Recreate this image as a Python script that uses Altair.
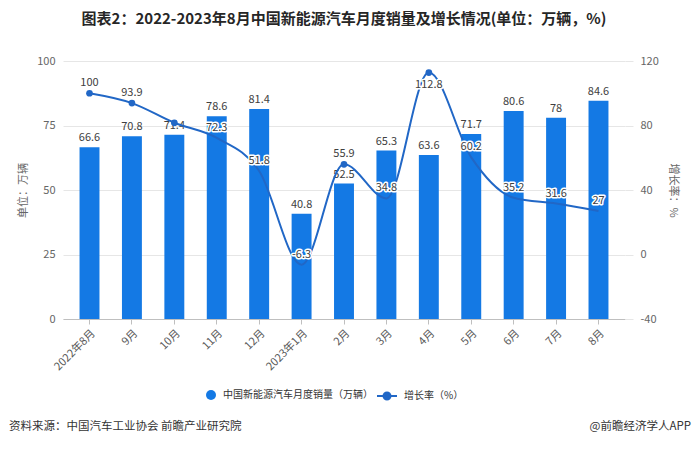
import altair as alt
import pandas as pd

# ---------------- data ----------------
months = ["2022年8月", "9月", "10月", "11月", "12月", "2023年1月", "2月", "3月",
          "4月", "5月", "6月", "7月", "8月"]
sales = [66.6, 70.8, 71.4, 78.6, 81.4, 40.8, 52.5, 65.3, 63.6, 71.7, 80.6, 78, 84.6]
growth = [100, 93.9, 81.7, 72.3, 51.8, -6.3, 55.9, 34.8, 112.8, 60.2, 35.2, 31.6, 27]
marker_months = ["2022年8月", "9月", "10月", "2月", "4月"]
growth_label_hidden = ["10月"]

sales_name = "中国新能源汽车月度销量（万辆）"
growth_name = "增长率（%）"
title_text = "图表2：2022-2023年8月中国新能源汽车月度销量及增长情况(单位：万辆，%)"
source_text = "资料来源：中国汽车工业协会 前瞻产业研究院"
brand_text = "@前瞻经济学人APP"

left_ticks = [0, 25, 50, 75, 100]
right_ticks = [-40, 0, 40, 80, 120]

FONT = "Noto Sans CJK SC"
BLUE = "#1479E4"
LINE = "#2167C6"
TXT = "#404040"

df = pd.DataFrame({
    "month": months,
    "sales": sales,
    "growth": growth,
    "sales_lbl": [f"{v:g}" for v in sales],
    "growth_lbl": [f"{v:g}" for v in growth],
    "s1": sales_name,
    "s2": growth_name,
})

base = alt.Chart(df)

x_enc = alt.X(
    "month:N", sort=months,
    scale=alt.Scale(paddingInner=0.53, paddingOuter=0.39),
    axis=alt.Axis(title=None, labelAngle=-45, labelAlign="right", labelBaseline="top",
                  labelColor="#595959", labelFontSize=11, labelFont=FONT,
                  domainColor="#bfbfbf", tickColor="#bfbfbf", tickSize=5,
                  labelPadding=3, grid=False),
)

left_axis = alt.Axis(values=left_ticks, title="单位：万辆", titleFontSize=11,
                     titleFontWeight="normal", titleColor="#666666", titleFont=FONT,
                     titlePadding=8, labelColor="#666666", labelFontSize=11, labelFont=FONT,
                     domain=False, ticks=False, labelPadding=8, grid=True,
                     gridColor="#e6e6e6")

right_axis = alt.Axis(orient="right", values=right_ticks, title="增长率：%", titleFontSize=11,
                      titleFontWeight="normal", titleColor="#666666", titleFont=FONT,
                      titlePadding=9, labelColor="#666666", labelFontSize=11, labelFont=FONT,
                      labelExpr="'' + datum.value",
                      domain=False, ticks=True, tickColor="#e6e6e6", tickSize=8,
                      labelPadding=7, grid=False)

legend1 = alt.Legend(orient="none", legendX=142, legendY=328, title=None,
                     symbolType="circle", symbolSize=100, labelFontSize=10,
                     labelColor="#333333", labelFont=FONT, labelLimit=400,
                     labelOffset=6)
legend2 = alt.Legend(orient="none", legendX=313, legendY=324, title=None,
                     symbolType="M-1,0L1,0M-0.35,0A0.35,0.35,0,1,1,0.35,0A0.35,0.35,0,1,1,-0.35,0Z",
                     symbolSize=400, symbolStrokeWidth=2, symbolFillColor=LINE,
                     labelFontSize=10, labelColor="#333333", labelFont=FONT,
                     labelLimit=400, labelOffset=6)

bars = base.mark_bar().encode(
    x=x_enc,
    y=alt.Y("sales:Q", scale=alt.Scale(domain=[0, 100], nice=False), axis=left_axis),
    color=alt.Color("s1:N", scale=alt.Scale(range=[BLUE]), legend=legend1),
)
bar_labels = base.mark_text(baseline="bottom", dy=-4, fontSize=11, color=TXT, font=FONT).encode(
    x=alt.X("month:N", sort=months), y="sales:Q", text="sales_lbl:N")
left_layer = alt.layer(bars, bar_labels)

line = base.mark_line(interpolate="monotone", strokeWidth=2).encode(
    x=alt.X("month:N", sort=months),
    y=alt.Y("growth:Q", scale=alt.Scale(domain=[-40, 120], nice=False), axis=right_axis),
    stroke=alt.Stroke("s2:N", scale=alt.Scale(range=[LINE]), legend=legend2),
)
points = base.mark_circle(size=45, color=LINE, opacity=1).encode(
    x=alt.X("month:N", sort=months), y="growth:Q"
).transform_filter(alt.FieldOneOfPredicate(field="month", oneOf=marker_months))

lbl_filter = "indexof(" + str(growth_label_hidden).replace("'", '"') + ", datum.month) < 0"


def glabels(cond, dy):
    halo = base.mark_text(dy=dy, fontSize=11, font=FONT, color=TXT, stroke="white",
                          strokeWidth=3, strokeJoin="round").encode(
        x=alt.X("month:N", sort=months), y="growth:Q", text="growth_lbl:N"
    ).transform_filter(lbl_filter).transform_filter(cond)
    txt = base.mark_text(dy=dy, fontSize=11, font=FONT, color=TXT).encode(
        x=alt.X("month:N", sort=months), y="growth:Q", text="growth_lbl:N"
    ).transform_filter(lbl_filter).transform_filter(cond)
    return [halo, txt]


right_layer = alt.layer(line, points,
                        *glabels("datum.growth <= 110", -10),
                        *glabels("datum.growth > 110", 12))

foot_df = pd.DataFrame({"src": [source_text], "brand": [brand_text]})
foot_left = alt.Chart(foot_df).mark_text(align="left", baseline="middle", fontSize=11.5,
                                         font=FONT, color="#333333").encode(
    x=alt.value(-54), y=alt.value(366), text="src:N")
foot_right = alt.Chart(foot_df).mark_text(align="right", baseline="middle", fontSize=11.5,
                                          font=FONT, color="#333333").encode(
    x=alt.value(628), y=alt.value(366), text="brand:N")

chart = alt.layer(left_layer, right_layer, foot_left, foot_right).resolve_scale(
    y="independent"
).properties(
    width=562, height=258,
    autosize=alt.AutoSizeParams(type="none"),
    padding={"left": 55, "top": 53, "right": 67, "bottom": 122},
    title=alt.TitleParams(title_text, font=FONT, fontSize=15, fontWeight="bold",
                          color="#262626", anchor="middle", offset=28),
).configure_view(stroke=None)

chart.save("out.html", embed_options={"renderer": "svg", "actions": False})
